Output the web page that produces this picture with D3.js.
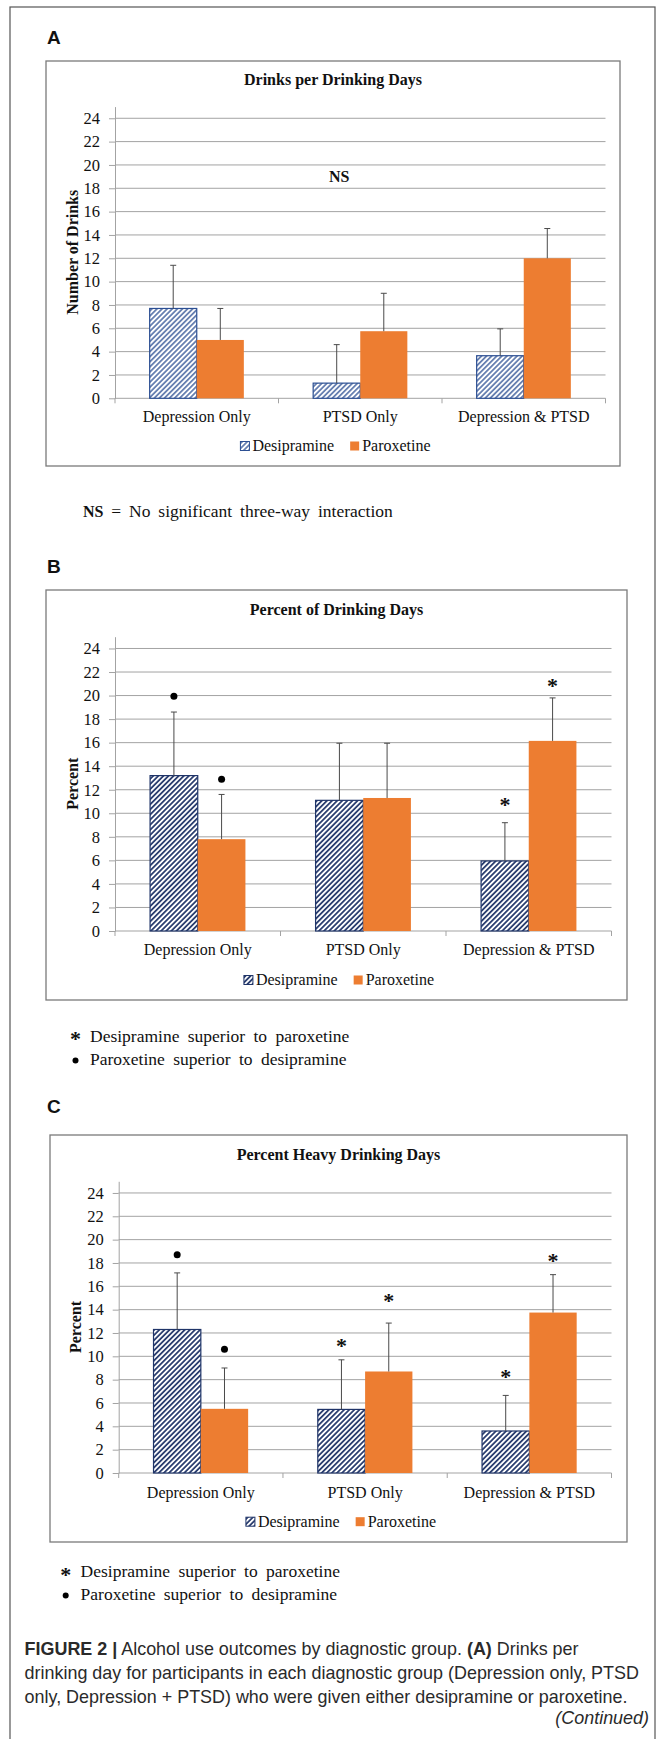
<!DOCTYPE html>
<html>
<head>
<meta charset="utf-8">
<script src="https://cdn.jsdelivr.net/npm/d3@7"></script>
<style>
  body { margin: 0; background: #fff; }
  svg text { font-family: "Liberation Serif", "Times New Roman", serif; fill: #111; }
  svg text.sans { font-family: "Liberation Sans", Arial, sans-serif; }
</style>
</head>
<body>
<div id="fig"></div>
<script>
// ---- data ----
const groups = ["Depression Only", "PTSD Only", "Depression & PTSD"];
const series = ["Desipramine", "Paroxetine"];
const yTickValues = [0, 2, 4, 6, 8, 10, 12, 14, 16, 18, 20, 22, 24];

// A: drinks per drinking day (bar value, top of error bar)
const drinksDes    = [7.7, 1.3, 3.65];
const drinksDesErr = [11.4, 4.6, 5.95];
const drinksPar    = [5.0, 5.75, 12.0];
const drinksParErr = [7.7, 9.0, 14.55];

// B: percent of drinking days
const pctDes    = [13.2, 11.1, 5.95];
const pctDesErr = [18.6, 15.95, 9.2];
const pctPar    = [7.8, 11.3, 16.15];
const pctParErr = [11.6, 15.95, 19.8];

// C: percent heavy drinking days
const heavyDes    = [12.3, 5.45, 3.6];
const heavyDesErr = [17.15, 9.7, 6.65];
const heavyPar    = [5.5, 8.7, 13.75];
const heavyParErr = [9.0, 12.85, 17.0];

// significance marks: group index, series index, kind, height (data units)
const pctMarks = [
  {g: 0, s: 0, kind: "dot",  at: 19.95},
  {g: 0, s: 1, kind: "dot",  at: 12.9},
  {g: 2, s: 0, kind: "star", at: 11.0},
  {g: 2, s: 1, kind: "star", at: 21.1}
];
const heavyMarks = [
  {g: 0, s: 0, kind: "dot",  at: 18.7},
  {g: 0, s: 1, kind: "dot",  at: 10.6},
  {g: 1, s: 0, kind: "star", at: 11.1},
  {g: 1, s: 1, kind: "star", at: 15.0},
  {g: 2, s: 0, kind: "star", at: 8.5},
  {g: 2, s: 1, kind: "star", at: 18.4}
];

const footStar = "Desipramine superior to paroxetine";
const footDot  = "Paroxetine superior to desipramine";
const captionLines = [
  [["FIGURE 2 |", "bold"], [" Alcohol use outcomes by diagnostic group. ", ""], ["(A)", "bold"], [" Drinks per", ""]],
  [["drinking day for participants in each diagnostic group (Depression only, PTSD", ""]],
  [["only, Depression + PTSD) who were given either desipramine or paroxetine.", ""]]
];

// ---- layout ----
const orange = "#ED7D31";
const gridCol = "#a3a3a3";
const errCol = "#4a4a4a";

const panels = [
  {key: "A", title: "Drinks per Drinking Days", yTitle: "Number of Drinks",
   des: drinksDes, desErr: drinksDesErr, par: drinksPar, parErr: drinksParErr, marks: [],
   letter: [47, 44], box: [46, 61, 620, 466], plot: {left: 115, right: 605.5, bottom: 398.3, top: 106.6},
   titleY: 80, catY: 416.7, legendY: 446, navy: "#2c4f93", sw: 1.3},
  {key: "B", title: "Percent of Drinking Days", yTitle: "Percent",
   des: pctDes, desErr: pctDesErr, par: pctPar, parErr: pctParErr, marks: pctMarks,
   letter: [47, 573], box: [46, 590, 627, 1000], plot: {left: 115, right: 611.5, bottom: 931, top: 636.7},
   titleY: 610, catY: 950, legendY: 980, navy: "#1f3468", sw: 1.7},
  {key: "C", title: "Percent Heavy Drinking Days", yTitle: "Percent",
   des: heavyDes, desErr: heavyDesErr, par: heavyPar, parErr: heavyParErr, marks: heavyMarks,
   letter: [47, 1113], box: [50, 1135, 627, 1542], plot: {left: 118.7, right: 611.5, bottom: 1473, top: 1181.3},
   titleY: 1155, catY: 1492.3, legendY: 1521.7, navy: "#1f3468", sw: 1.7}
];

const svg = d3.select("#fig").append("svg")
  .attr("width", 665).attr("height", 1739);
const defs = svg.append("defs");

// outer page frame
svg.append("rect")
  .attr("x", 10).attr("y", 7).attr("width", 645).attr("height", 1800)
  .attr("fill", "none").attr("stroke", "#555").attr("stroke-width", 1.2);

function makeHatch(id, color, sw) {
  const s = 3.6;
  const p = defs.append("pattern").attr("id", id)
    .attr("patternUnits", "userSpaceOnUse")
    .attr("width", s).attr("height", s)
    .attr("patternTransform", "rotate(45)");
  p.append("rect").attr("width", s).attr("height", s).attr("fill", "#fff");
  p.append("line").attr("x1", s / 2).attr("x2", s / 2).attr("y1", 0).attr("y2", s)
    .attr("stroke", color).attr("stroke-width", sw);
}

function drawPanel(p) {
  makeHatch("hatch-" + p.key, p.navy, p.sw);
  const hatchFill = `url(#hatch-${p.key})`;
  const [bx0, by0, bx1, by1] = p.box;
  const cx = (bx0 + bx1) / 2;

  svg.append("text").attr("class", "sans")
    .attr("x", p.letter[0]).attr("y", p.letter[1])
    .attr("font-size", 19).attr("font-weight", "bold")
    .text(p.key);

  const g = svg.append("g").attr("class", "panel");
  g.append("rect")
    .attr("x", bx0).attr("y", by0).attr("width", bx1 - bx0).attr("height", by1 - by0)
    .attr("fill", "#fff").attr("stroke", "#7a7a7a").attr("stroke-width", 1.3);

  g.append("text")
    .attr("x", cx).attr("y", p.titleY).attr("dy", "0.33em")
    .attr("text-anchor", "middle").attr("font-size", 16).attr("font-weight", "bold")
    .text(p.title);

  const x0 = d3.scaleBand().domain(groups).range([p.plot.left, p.plot.right]);
  const x1 = d3.scaleBand().domain(series).range([0, x0.bandwidth()])
    .paddingInner(0).paddingOuter(0.736);
  const y = d3.scaleLinear([0, 25], [p.plot.bottom, p.plot.top]);

  // gridlines
  g.append("g").selectAll("line").data(yTickValues.filter(v => v > 0)).join("line")
    .attr("x1", p.plot.left).attr("x2", p.plot.right)
    .attr("y1", d => y(d)).attr("y2", d => y(d))
    .attr("stroke", gridCol).attr("stroke-width", 1);

  // y axis
  const ya = g.append("g").attr("transform", `translate(${p.plot.left},0)`)
    .call(d3.axisLeft(y).tickValues(yTickValues).tickSize(6).tickSizeOuter(0).tickPadding(9));
  ya.select(".domain").attr("stroke", gridCol);
  ya.selectAll(".tick line").attr("stroke", gridCol);
  ya.selectAll(".tick text")
    .attr("font-family", '"Liberation Serif", "Times New Roman", serif')
    .attr("font-size", 16.5).attr("fill", "#222");

  // x axis baseline + boundary ticks
  g.append("line")
    .attr("x1", p.plot.left).attr("x2", p.plot.right)
    .attr("y1", y(0)).attr("y2", y(0)).attr("stroke", gridCol);
  const bounds = groups.map(d => x0(d)).concat([p.plot.right]);
  g.append("g").selectAll("line").data(bounds).join("line")
    .attr("x1", d => d).attr("x2", d => d)
    .attr("y1", y(0)).attr("y2", y(0) + 5)
    .attr("stroke", gridCol);
  g.append("g").selectAll("text").data(groups).join("text")
    .attr("x", d => x0(d) + x0.bandwidth() / 2).attr("y", p.catY).attr("dy", "0.33em")
    .attr("text-anchor", "middle").attr("font-size", 16).attr("fill", "#222")
    .text(d => d);

  // y title
  g.append("text")
    .attr("transform", `translate(${p.plot.left - 42.5},${(y(0) + y(24)) / 2 - 6}) rotate(-90)`)
    .attr("dy", "0.33em").attr("text-anchor", "middle")
    .attr("font-size", 16).attr("font-weight", "bold")
    .text(p.yTitle);

  // bars
  const rows = groups.map((grp, i) => [
    {grp, s: series[0], v: p.des[i], e: p.desErr[i]},
    {grp, s: series[1], v: p.par[i], e: p.parErr[i]}
  ]).flat();
  const bx = d => x0(d.grp) + x1(d.s);
  const bars = g.append("g");
  bars.selectAll("rect").data(rows).join("rect")
    .attr("x", bx).attr("width", x1.bandwidth())
    .attr("y", d => y(d.v)).attr("height", d => y(0) - y(d.v))
    .attr("fill", d => d.s === series[0] ? hatchFill : orange)
    .attr("stroke", d => d.s === series[0] ? p.navy : "none")
    .attr("stroke-width", 1.2);

  // error bars (upper only)
  const eb = g.append("g").attr("stroke", errCol).attr("stroke-width", 1);
  eb.selectAll("line.v").data(rows).join("line").attr("class", "v")
    .attr("x1", d => bx(d) + x1.bandwidth() / 2).attr("x2", d => bx(d) + x1.bandwidth() / 2)
    .attr("y1", d => y(d.v)).attr("y2", d => y(d.e));
  eb.selectAll("line.c").data(rows).join("line").attr("class", "c")
    .attr("x1", d => bx(d) + x1.bandwidth() / 2 - 3).attr("x2", d => bx(d) + x1.bandwidth() / 2 + 3)
    .attr("y1", d => y(d.e)).attr("y2", d => y(d.e));

  // significance marks
  const mx = m => x0(groups[m.g]) + x1(series[m.s]) + x1.bandwidth() / 2;
  g.append("g").selectAll("circle").data(p.marks.filter(m => m.kind === "dot")).join("circle")
    .attr("cx", mx).attr("cy", m => y(m.at)).attr("r", 3.5).attr("fill", "#000");
  g.append("g").selectAll("text").data(p.marks.filter(m => m.kind === "star")).join("text")
    .attr("x", mx).attr("y", m => y(m.at) + 10)
    .attr("text-anchor", "middle").attr("font-size", 22).attr("font-weight", "bold").attr("fill", "#000")
    .text("*");

  // legend
  const lg = g.append("g");
  let cur = 0;
  series.forEach((s, i) => {
    const item = lg.append("g").attr("transform", `translate(${cur},0)`);
    item.append("rect").attr("x", 0).attr("y", -4.5).attr("width", 9).attr("height", 9)
      .attr("fill", i === 0 ? hatchFill : orange)
      .attr("stroke", i === 0 ? p.navy : "none");
    const t = item.append("text").attr("x", 12).attr("dy", "0.33em")
      .attr("font-size", 16).attr("fill", "#222").text(s);
    cur += 12 + t.node().getComputedTextLength() + 16;
  });
  const total = cur - 16;
  lg.attr("transform", `translate(${cx + 2.5 - total / 2},${p.legendY})`);

  return {x0, y};
}

const scalesA = drawPanel(panels[0]);
drawPanel(panels[1]);
drawPanel(panels[2]);

// NS note inside panel A
svg.append("text")
  .attr("x", panels[0].plot.left + 0.457 * (panels[0].plot.right - panels[0].plot.left))
  .attr("y", scalesA.y(19.0)).attr("dy", "0.33em")
  .attr("text-anchor", "middle").attr("font-size", 16).attr("font-weight", "bold")
  .text("NS");

// NS footnote
const ns = svg.append("text").attr("x", 83).attr("y", 516.5)
  .attr("font-size", 17.5).attr("word-spacing", 3.5);
ns.append("tspan").attr("font-weight", "bold").attr("font-size", 16).text("NS");
ns.append("tspan").text(" = No significant three-way interaction");

// symbol footnotes under B and C
function footnotes(symX, textX, y1, y2) {
  svg.append("text").attr("x", symX).attr("y", y1 + 10).attr("text-anchor", "middle")
    .attr("font-size", 22).attr("font-weight", "bold").attr("fill", "#000").text("*");
  svg.append("text").attr("x", textX).attr("y", y1).attr("dy", "0.33em")
    .attr("font-size", 17.5).attr("word-spacing", 4).text(footStar);
  svg.append("circle").attr("cx", symX).attr("cy", y2 + 1.5).attr("r", 3).attr("fill", "#000");
  svg.append("text").attr("x", textX).attr("y", y2).attr("dy", "0.33em")
    .attr("font-size", 17.5).attr("word-spacing", 4).text(footDot);
}
footnotes(75.5, 90, 1036, 1059);
footnotes(65.7, 80.6, 1571.7, 1594);

// caption: size the font so the full second line spans the text block
const capX = 24.6, capRight = 639.5;
const probe = svg.append("text").attr("class", "sans").attr("font-size", 16)
  .text(captionLines[1][0][0]);
const capSize = 16 * (capRight - capX) / probe.node().getComputedTextLength();
probe.remove();

const capY = [1655, 1679, 1702.5];
captionLines.forEach((parts, i) => {
  const t = svg.append("text").attr("class", "sans")
    .attr("x", capX).attr("y", capY[i]).attr("font-size", capSize).style("fill", "#2a2a2a");
  parts.forEach(([txt, w]) => {
    t.append("tspan").attr("font-weight", w || null).style("white-space", "pre").text(txt);
  });
});
svg.append("text").attr("class", "sans")
  .attr("x", 649).attr("y", 1724).attr("text-anchor", "end")
  .attr("font-size", capSize).attr("font-style", "italic").style("fill", "#2a2a2a")
  .text("(Continued)");
</script>
</body>
</html>
